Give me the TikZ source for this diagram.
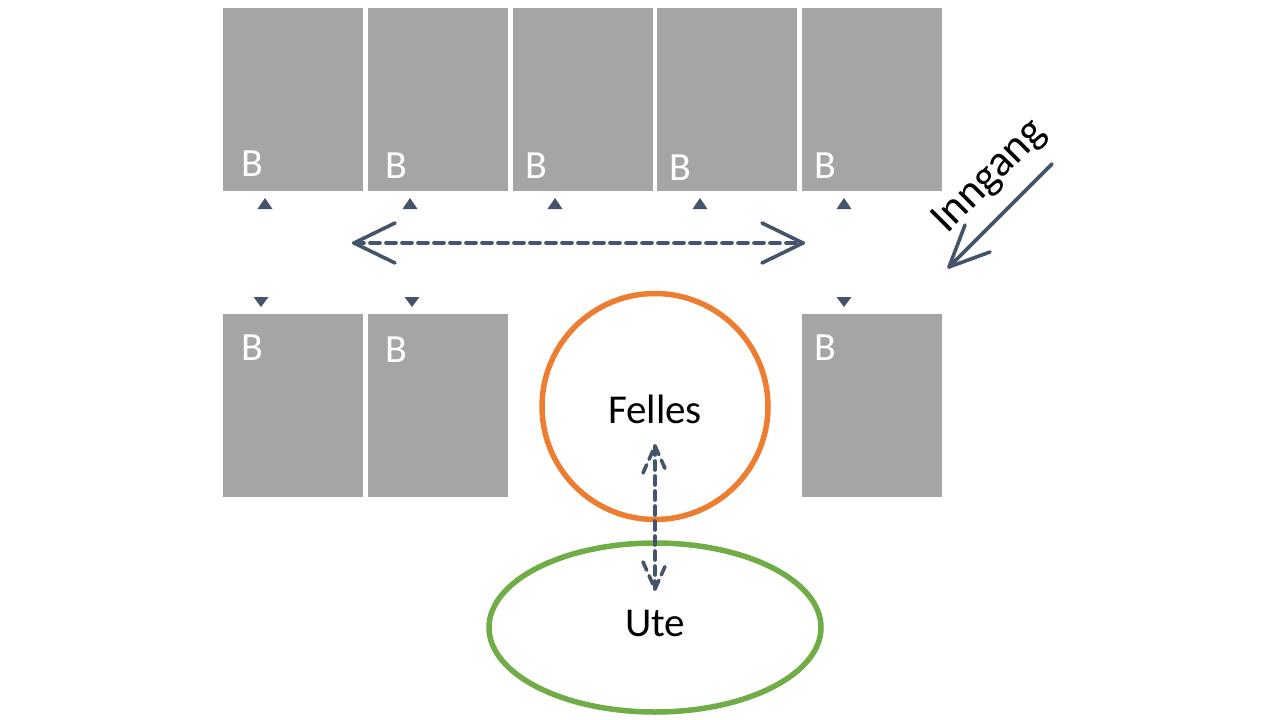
\documentclass[tikz,border=0pt]{standalone}
\usepackage{fontspec}
\setmainfont{Carlito}
\usetikzlibrary{arrows.meta,calc}
\definecolor{boxgrey}{HTML}{A5A5A5}
\definecolor{slate}{HTML}{44546A}
\definecolor{orangec}{HTML}{ED7D31}
\definecolor{greenc}{HTML}{70AD47}
\tikzset{
  room/.style={rectangle, fill=boxgrey, draw=none, minimum width=140pt, minimum height=183pt, inner sep=0pt},
  blabel/.style={text=white, font=\fontsize{40}{42}\selectfont, inner sep=0pt},
  txt/.style={text=black, font=\fontsize{41}{43}\selectfont, inner sep=0pt},
  door/.style={fill=slate, draw=none},
  link/.style={draw=slate, line width=3.6pt, dash pattern=on 10pt off 6pt, line cap=round},
  barb/.style={draw=slate, line width=3.6pt, line cap=round, line join=round},
}
\begin{document}
\begin{tikzpicture}[x=1pt, y=-1pt]
\useasboundingbox (0,0) rectangle (1280,720);
% top row rooms
\node[room] (b1) at (293,99.5) {};
\node[room] (b2) at (438,99.5) {};
\node[room] (b3) at (583,99.5) {};
\node[room] (b4) at (727,99.5) {};
\node[room] (b5) at (872,99.5) {};
% bottom row rooms
\node[room] (c1) at (293,405.5) {};
\node[room] (c2) at (438,405.5) {};
\node[room] (c5) at (872,405.5) {};
% labels
\node[blabel] (lb1) at (252,164) {B};
\node[blabel] (lb2) at (396,166) {B};
\node[blabel] (lb3) at (536,166) {B};
\node[blabel] (lb4) at (680,168) {B};
\node[blabel] (lb5) at (825,166) {B};
\node[blabel] (lc1) at (252,348) {B};
\node[blabel] (lc2) at (396,350) {B};
\node[blabel] (lc5) at (825,348) {B};
% doors (small triangles)
\foreach \x in {265,410,555,700,844}{
  \fill[door] (\x,198) -- (\x+7.5,209) -- (\x-7.5,209) -- cycle;
}
\foreach \x in {261,412,844}{
  \fill[door] (\x-7.5,297) -- (\x+7.5,297) -- (\x,307) -- cycle;
}
% corridor arrow
\coordinate (hl) at (354,243);
\coordinate (hr) at (803,243);
\draw[link] (hl) -- (hr);
\draw[barb] ($(hl)+(41,-20)$) -- (hl) -- ($(hl)+(41,20)$);
\draw[barb] ($(hr)+(-41,-20)$) -- (hr) -- ($(hr)+(-41,20)$);
% common area and outdoors
\draw[orangec, line width=5.5pt] (655,406.5) circle (113);
\draw[greenc, line width=5.5pt] (655,627.5) ellipse (166 and 84.5);
\node[txt] (felles) at (655,409) {Felles};
\node[txt] (ute) at (655,623) {Ute};
% vertical dashed arrow
\coordinate (va) at (655,446);
\coordinate (vb) at (655,589);
\draw[link, dash pattern=on 9pt off 6pt] (va) -- (vb);
\draw[barb, dash pattern=on 9pt off 6pt] ($(va)+(-12,27)$) -- (va) -- ($(va)+(12,27)$);
\draw[barb, dash pattern=on 9pt off 6pt] ($(vb)+(-12,-27)$) -- (vb) -- ($(vb)+(12,-27)$);
% entrance
\coordinate (ia) at (1052,164);
\coordinate (ib) at (949,267);
\draw[barb] (ia) -- (ib);
\draw[barb] (965,225) -- (ib) -- (990,252);
\node[txt, font=\fontsize{44}{46}\selectfont, rotate=45] (inngang) at (990,177) {Inngang};
\end{tikzpicture}
\end{document}
